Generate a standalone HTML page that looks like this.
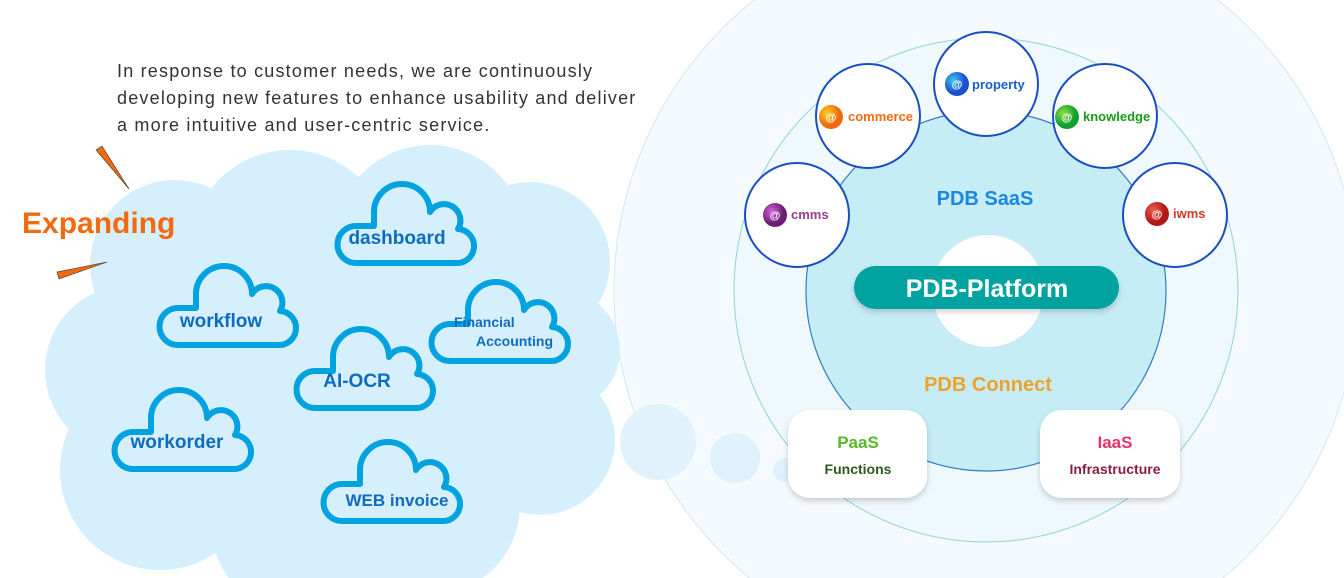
<!DOCTYPE html>
<html><head><meta charset="utf-8"><style>
html,body{margin:0;padding:0;background:#fff;width:1344px;height:578px;overflow:hidden;}
svg{display:block;font-family:"Liberation Sans",sans-serif;}
</style></head><body>
<svg width="1344" height="578" viewBox="0 0 1344 578" xmlns="http://www.w3.org/2000/svg" overflow="hidden">
<defs>
<radialGradient id="gb" cx="35%" cy="35%"><stop offset="0" stop-color="#3ec8f0"/><stop offset="1" stop-color="#1a4fd0"/></radialGradient>
<radialGradient id="go" cx="35%" cy="35%"><stop offset="0" stop-color="#ffd020"/><stop offset="1" stop-color="#f06a10"/></radialGradient>
<radialGradient id="gg" cx="35%" cy="35%"><stop offset="0" stop-color="#8ee040"/><stop offset="1" stop-color="#10a030"/></radialGradient>
<radialGradient id="gp" cx="35%" cy="35%"><stop offset="0" stop-color="#d060e0"/><stop offset="1" stop-color="#6a2070"/></radialGradient>
<radialGradient id="gr" cx="35%" cy="35%"><stop offset="0" stop-color="#f06050"/><stop offset="1" stop-color="#b01818"/></radialGradient>
<filter id="sh" x="-20%" y="-20%" width="140%" height="150%"><feDropShadow dx="0" dy="3" stdDeviation="3" flood-color="#000" flood-opacity="0.18"/></filter>
<path id="cl" d="M26,84 H126 A17,17 0 0 0 128,50 A16,16 0 0 0 100,33 A28,28 0 0 0 44,33 V47 H26 A18.5,18.5 0 0 0 26,84 Z" fill="none" stroke="#00a3e0" stroke-width="6" stroke-linejoin="round"/>
</defs>

<circle cx="986" cy="291" r="372" fill="#f4fafe" stroke="#cfe8f2" stroke-width="1"/>
<circle cx="658" cy="442" r="38" fill="#dff1fc" opacity="0.9"/>
<circle cx="735" cy="458" r="25" fill="#dff1fc"/>
<circle cx="785" cy="470" r="12" fill="#dff1fc"/>
<circle cx="986" cy="290" r="252" fill="#eef8fd" stroke="#8fd3dc" stroke-width="1"/>
<circle cx="986" cy="291" r="180" fill="#c6ecf6" stroke="#2f7fc0" stroke-width="1.2"/>
<circle cx="988" cy="291" r="56" fill="#fff"/>

<rect x="854" y="266" width="265" height="43" rx="21.5" fill="#00a3a0" filter="url(#sh)"/>
<text x="987" y="297" text-anchor="middle" font-size="25" font-weight="bold" fill="#fff">PDB-Platform</text>
<text x="985" y="205" text-anchor="middle" font-size="20" font-weight="bold" fill="#1a88e0">PDB SaaS</text>
<text x="988" y="391" text-anchor="middle" font-size="20" font-weight="bold" fill="#eea22a">PDB Connect</text>

<rect x="788" y="410" width="139" height="88" rx="22" fill="#fff" filter="url(#sh)"/>
<text x="858" y="448" text-anchor="middle" font-size="17" font-weight="bold" fill="#5ab82a">PaaS</text>
<text x="858" y="474" text-anchor="middle" font-size="14" font-weight="bold" fill="#2d5a1f">Functions</text>
<rect x="1040" y="410" width="140" height="88" rx="22" fill="#fff" filter="url(#sh)"/>
<text x="1115" y="448" text-anchor="middle" font-size="17" font-weight="bold" fill="#e8336a">IaaS</text>
<text x="1115" y="474" text-anchor="middle" font-size="14" font-weight="bold" fill="#8b1e3f">Infrastructure</text>

<g stroke="#1a4fc4" stroke-width="2" fill="#fff">
<circle cx="986" cy="84" r="52"/><circle cx="868" cy="116" r="52"/><circle cx="1105" cy="116" r="52"/>
<circle cx="797" cy="215" r="52"/><circle cx="1175" cy="215" r="52"/>
</g>
<g font-size="13" font-weight="bold">
<circle cx="957" cy="84" r="12" fill="url(#gb)"/><text x="957" y="88" text-anchor="middle" fill="#fff" font-size="11">@</text>
<text x="972" y="89" fill="#1a5ed0">property</text>
<circle cx="831" cy="117" r="12" fill="url(#go)"/><text x="831" y="121" text-anchor="middle" fill="#fff" font-size="11">@</text>
<text x="848" y="121" fill="#f06a10">commerce</text>
<circle cx="1067" cy="117" r="12" fill="url(#gg)"/><text x="1067" y="121" text-anchor="middle" fill="#fff" font-size="11">@</text>
<text x="1083" y="121" fill="#1a9a1a">knowledge</text>
<circle cx="775" cy="215" r="12" fill="url(#gp)"/><text x="775" y="219" text-anchor="middle" fill="#fff" font-size="11">@</text>
<text x="791" y="219" fill="#9a3f8a">cmms</text>
<circle cx="1157" cy="214" r="12" fill="url(#gr)"/><text x="1157" y="218" text-anchor="middle" fill="#fff" font-size="11">@</text>
<text x="1173" y="218" fill="#d03a2a">iwms</text>
</g>

<g fill="#d6effc">
<rect x="150" y="230" width="370" height="280"/>
<circle cx="175" cy="265" r="85"/><circle cx="290" cy="250" r="100"/><circle cx="430" cy="240" r="95"/>
<circle cx="530" cy="262" r="80"/><circle cx="560" cy="350" r="60"/><circle cx="540" cy="440" r="75"/>
<circle cx="430" cy="505" r="90"/><circle cx="310" cy="520" r="100"/><circle cx="160" cy="470" r="100"/>
<circle cx="130" cy="370" r="85"/>
</g>

<use href="#cl" x="330" y="179"/>
<use href="#cl" x="152" y="261"/>
<use href="#cl" x="424" y="277"/>
<use href="#cl" x="289" y="324"/>
<use href="#cl" x="107" y="385"/>
<use href="#cl" x="316" y="437"/>
<g font-weight="bold" fill="#0e6cc0">
<text x="397" y="244" text-anchor="middle" font-size="19">dashboard</text>
<text x="221" y="327" text-anchor="middle" font-size="19">workflow</text>
<text x="357" y="387" text-anchor="middle" font-size="19">AI-OCR</text>
<text x="177" y="448" text-anchor="middle" font-size="19">workorder</text>
<text x="397" y="506" text-anchor="middle" font-size="17">WEB invoice</text>
<text x="454" y="327" font-size="14">Financial</text>
<text x="476" y="346" font-size="14">Accounting</text>
</g>

<polygon points="96,150 102,146 129,189" fill="#f26a10" stroke="#333" stroke-width="0.6"/>
<polygon points="57,272 59,279 107,262" fill="#f26a10" stroke="#333" stroke-width="0.6"/>
<text x="22" y="233" font-size="30" font-weight="bold" fill="#f26a10">Expanding</text>

<g font-size="18" fill="#333" letter-spacing="1.2">
<text x="117" y="77">In response to customer needs, we are continuously</text>
<text x="117" y="104">developing new features to enhance usability and deliver</text>
<text x="117" y="131">a more intuitive and user-centric service.</text>
</g>
</svg>
</body></html>
